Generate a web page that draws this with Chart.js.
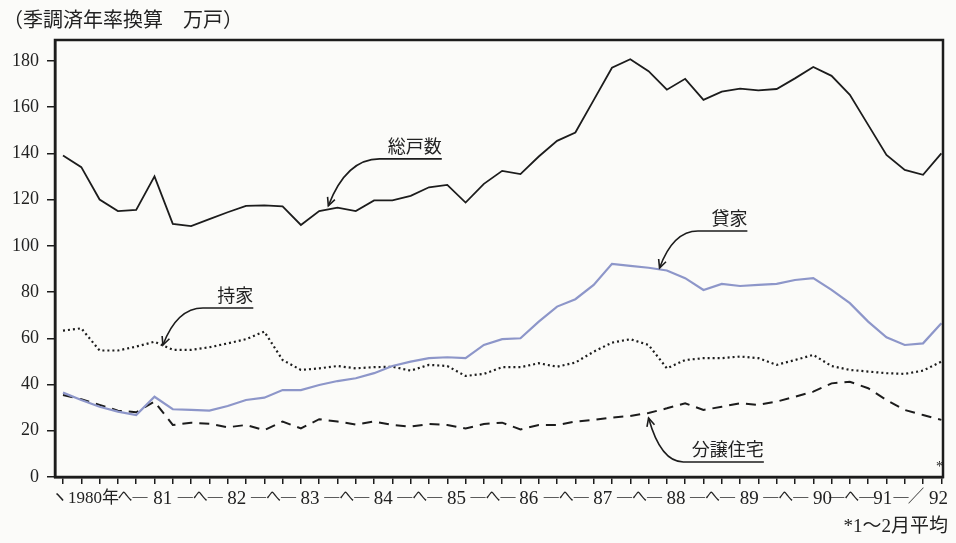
<!DOCTYPE html>
<html lang="ja">
<head>
<meta charset="utf-8">
<title>住宅着工戸数の推移</title>
<script src="https://cdn.jsdelivr.net/npm/chart.js@4.4.1/dist/chart.umd.min.js"></script>
<style>
  html, body { margin: 0; padding: 0; background: #fbfbf9; }
  #wrap { width: 956px; height: 543px; }
</style>
</head>
<body>
<div id="wrap"><canvas id="housingChart" width="956" height="543"></canvas></div>
<script>
// 四半期データ（1980年1-3月期 〜 1992年1-2月平均）、季調済年率換算、万戸
const totalStarts = [
  139, 134, 120, 115, 115.5, 130, 109.5, 108.5, 111.5, 114.5, 117.3, 117.5,
  117, 109, 115, 116.5, 115, 119.6, 119.6, 121.6, 125.3, 126.3, 118.7, 126.8,
  132.4, 131, 138.6, 145.4, 149, 163, 177, 180.7, 175.5, 167.5, 172.2, 163.1,
  166.7, 168, 167.2, 167.8, 172.4, 177.3, 173.5, 165.3, 152.3, 139.3, 132.8, 130.7,
  140
];
const rentalStarts = [
  36.5, 33.3, 30.4, 28.3, 26.8, 34.7, 29.3, 29, 28.7, 30.7, 33.3, 34.3,
  37.6, 37.6, 39.8, 41.5, 42.7, 44.9, 48, 49.9, 51.4, 51.8, 51.4, 57.1,
  59.6, 60, 67.2, 73.7, 76.9, 83.1, 92.2, 91.3, 90.5, 89.3, 86, 80.9,
  83.5, 82.6, 83.1, 83.5, 85.2, 86, 80.9, 75.2, 67.2, 60.4, 57.1, 57.8,
  66.5
];
const ownerStarts = [
  63.3, 64.3, 54.7, 54.7, 56.4, 58.5, 55, 55, 56.1, 57.8, 59.6, 62.9,
  50.6, 46.3, 47, 48, 47, 47.5, 47.7, 46, 48.5, 48, 43.7, 44.6,
  47.5, 47.5, 49.2, 47.7, 49.5, 54.2, 58.1, 59.6, 57.1, 47, 50.6, 51.4,
  51.4, 52.1, 51.4, 48.5, 50.6, 52.8, 48, 46.3, 45.6, 44.9, 44.6, 46,
  49.9
];
const condoStarts = [
  35.5, 33.6, 31.2, 28.7, 28, 32.6, 22.5, 23.5, 23, 21.5, 22.5, 20.3,
  24, 21, 25, 24, 22.7, 24, 22.5, 21.8, 22.9, 22.5, 21, 22.9,
  23.5, 20.6, 22.5, 22.5, 24, 24.7, 25.7, 26.4, 27.7, 29.7, 31.9, 29,
  30.4, 31.9, 31.2, 32.6, 34.7, 36.9, 40.5, 41.2, 38.4, 33.3, 29, 26.8,
  24.7
];

const quarterIndex = totalStarts.map((_, i) => i);
const yTickValues = [0, 20, 40, 60, 80, 100, 120, 140, 160, 180];

// 年ラベル（四半期インデックス上の位置）
const yearTickPos = [1.2, 3.8, 5.45, 7.5, 9.5, 11.5, 13.5, 15.5, 17.5, 19.5, 21.5, 23.5,
  25.45, 27.5, 29.5, 31.5, 33.5, 35.5, 37.5, 39.5, 41.5, 43.1, 44.8, 46.2, 47.85];
const yearTickText = ['ヽ1980年', 'へ—', '81', '—へ—', '82', '—へ—', '83', '—へ—', '84', '—へ—',
  '85', '—へ—', '86', '—へ—', '87', '—へ—', '88', '—へ—', '89', '—へ—', '90', '—へ—', '91', '—╱', '92'];

// 系列名の引き出し線（[四半期, 万戸]）
const callouts = [
  { text: '総戸数', tip: [14.5, 117.3], bend: [17.3, 137.6], end: [20.7, 137.6] },
  { text: '持家', tip: [5.46, 57.1], bend: [7.65, 73.1], end: [10.4, 73.1] },
  { text: '貸家', tip: [32.6, 90.4], bend: [34.7, 106.4], end: [37.4, 106.4] },
  { text: '分譲住宅', tip: [32.0, 25.5], bend: [33.9, 6.5], end: [38.3, 6.5] }
];

const toPoints = values => values.map((v, i) => ({ x: quarterIndex[i], y: v }));

const ink = '#1c1c1c';
const xMin = -0.437, xMax = 48.09;
const isConnector = i => i > 0 && !/\d/.test(yearTickText[i]);

const decorations = {
  id: 'decorations',
  afterDraw(chart) {
    const { ctx, chartArea: a, scales: { x, y } } = chart;
    ctx.save();

    // 枠
    ctx.strokeStyle = ink;
    ctx.lineWidth = 2.5;
    ctx.strokeRect(a.left, a.top, a.right - a.left, a.bottom - a.top);

    // 引き出し線とラベル
    ctx.lineWidth = 1.6;
    ctx.fillStyle = '#222';
    ctx.font = '18px "Noto Sans CJK JP"';
    callouts.forEach(c => {
      const tx = x.getPixelForValue(c.tip[0]), ty = y.getPixelForValue(c.tip[1]);
      const bx = x.getPixelForValue(c.bend[0]), by = y.getPixelForValue(c.bend[1]);
      const ex = x.getPixelForValue(c.end[0]);
      const cx = tx + (bx - tx) * 0.35;
      ctx.beginPath();
      ctx.moveTo(ex, by);
      ctx.lineTo(bx, by);
      ctx.quadraticCurveTo(cx, by, tx, ty);
      ctx.stroke();
      const ang = Math.atan2(ty - by, tx - cx);
      ctx.beginPath();
      ctx.moveTo(tx - 9 * Math.cos(ang - 0.45), ty - 9 * Math.sin(ang - 0.45));
      ctx.lineTo(tx, ty);
      ctx.lineTo(tx - 9 * Math.cos(ang + 0.45), ty - 9 * Math.sin(ang + 0.45));
      ctx.stroke();
      ctx.textAlign = 'right';
      ctx.textBaseline = 'alphabetic';
      ctx.fillText(c.text, ex, by - 6);
    });

    // 単位
    ctx.textAlign = 'left';
    ctx.textBaseline = 'middle';
    ctx.font = '20px "Noto Sans CJK JP"';
    ctx.fillText('（季調済年率換算　万戸）', 3, 19);

    // 注記
    ctx.font = '14px "Liberation Serif"';
    ctx.textAlign = 'center';
    ctx.fillText('*', x.getPixelForValue(47.9), a.bottom - 10);
    ctx.textAlign = 'right';
    ctx.font = '19px "Liberation Serif", "Noto Sans CJK JP"';
    ctx.fillText('*1～2月平均', 948, 527);

    ctx.restore();
  }
};

new Chart(document.getElementById('housingChart'), {
  type: 'line',
  data: {
    datasets: [
      { label: '総戸数', data: toPoints(totalStarts), borderColor: ink, borderWidth: 1.8 },
      { label: '貸家', data: toPoints(rentalStarts), borderColor: '#8d96c9', borderWidth: 2.2 },
      { label: '持家', data: toPoints(ownerStarts), borderColor: ink, borderWidth: 2.2, borderDash: [2, 3] },
      { label: '分譲住宅', data: toPoints(condoStarts), borderColor: ink, borderWidth: 2, borderDash: [10, 7] }
    ]
  },
  options: {
    responsive: false,
    devicePixelRatio: 1,
    animation: false,
    elements: { point: { radius: 0 }, line: { tension: 0, fill: false } },
    layout: { padding: { top: 40, right: 13, bottom: 28, left: 0 } },
    plugins: { legend: { display: false }, tooltip: { enabled: false }, title: { display: false } },
    scales: {
      x: {
        type: 'linear', min: xMin, max: xMax,
        afterBuildTicks: s => { s.ticks = quarterIndex.map(v => ({ value: v })); },
        afterFit: s => { s.height = 8; },
        border: { color: ink, width: 2.5 },
        grid: { drawOnChartArea: false, tickLength: 7, color: ink, lineWidth: 1.5 },
        ticks: { display: false }
      },
      xl: {
        type: 'linear', axis: 'x', position: 'bottom', weight: 1, min: xMin, max: xMax,
        afterBuildTicks: s => { s.ticks = yearTickPos.map(v => ({ value: v })); },
        afterFit: s => { s.height = 30; },
        border: { display: false },
        grid: { display: false, drawTicks: false },
        ticks: {
          autoSkip: false, maxRotation: 0, minRotation: 0, padding: 3, color: '#222',
          font: c => ({
            family: '"Liberation Serif", "Noto Sans CJK JP"',
            size: isConnector(c.index) ? 15 : (c.index === 0 ? 17 : 19)
          }),
          callback: (v, i) => yearTickText[i]
        }
      },
      y: {
        min: 0, max: 189,
        afterBuildTicks: s => { s.ticks = yTickValues.map(v => ({ value: v })); },
        afterFit: s => { s.width = 55; },
        border: { color: ink, width: 2.5 },
        grid: { drawOnChartArea: false, tickLength: 8, color: ink, lineWidth: 1.5 },
        ticks: { color: '#222', padding: 8, font: { family: 'Liberation Serif', size: 18 } }
      }
    }
  },
  plugins: [decorations]
});
</script>
</body>
</html>
